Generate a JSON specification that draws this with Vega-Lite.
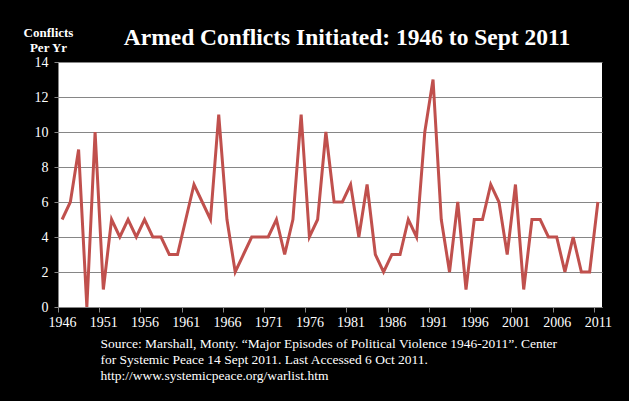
{
  "$schema": "https://vega.github.io/schema/vega-lite/v6.json",
  "autosize": {"type": "none"},
  "width": 544,
  "height": 245,
  "padding": {"left": 58, "top": 62, "right": 27, "bottom": 94},
  "background": "black",
  "title": {
    "text": "Armed Conflicts Initiated: 1946 to Sept 2011",
    "font": "'Liberation Serif', 'Times New Roman', serif",
    "fontSize": 23.5,
    "fontWeight": "bold",
    "color": "white",
    "anchor": "middle",
    "dx": 17,
    "baseline": "alphabetic",
    "offset": -42
  },
  "data": {
    "values": [
      {"year": 1946, "conflicts": 5}, {"year": 1947, "conflicts": 6}, {"year": 1948, "conflicts": 9},
      {"year": 1949, "conflicts": 0}, {"year": 1950, "conflicts": 10}, {"year": 1951, "conflicts": 1},
      {"year": 1952, "conflicts": 5}, {"year": 1953, "conflicts": 4}, {"year": 1954, "conflicts": 5},
      {"year": 1955, "conflicts": 4}, {"year": 1956, "conflicts": 5}, {"year": 1957, "conflicts": 4},
      {"year": 1958, "conflicts": 4}, {"year": 1959, "conflicts": 3}, {"year": 1960, "conflicts": 3},
      {"year": 1961, "conflicts": 5}, {"year": 1962, "conflicts": 7}, {"year": 1963, "conflicts": 6},
      {"year": 1964, "conflicts": 5}, {"year": 1965, "conflicts": 11}, {"year": 1966, "conflicts": 5},
      {"year": 1967, "conflicts": 2}, {"year": 1968, "conflicts": 3}, {"year": 1969, "conflicts": 4},
      {"year": 1970, "conflicts": 4}, {"year": 1971, "conflicts": 4}, {"year": 1972, "conflicts": 5},
      {"year": 1973, "conflicts": 3}, {"year": 1974, "conflicts": 5}, {"year": 1975, "conflicts": 11},
      {"year": 1976, "conflicts": 4}, {"year": 1977, "conflicts": 5}, {"year": 1978, "conflicts": 10},
      {"year": 1979, "conflicts": 6}, {"year": 1980, "conflicts": 6}, {"year": 1981, "conflicts": 7},
      {"year": 1982, "conflicts": 4}, {"year": 1983, "conflicts": 7}, {"year": 1984, "conflicts": 3},
      {"year": 1985, "conflicts": 2}, {"year": 1986, "conflicts": 3}, {"year": 1987, "conflicts": 3},
      {"year": 1988, "conflicts": 5}, {"year": 1989, "conflicts": 4}, {"year": 1990, "conflicts": 10},
      {"year": 1991, "conflicts": 13}, {"year": 1992, "conflicts": 5}, {"year": 1993, "conflicts": 2},
      {"year": 1994, "conflicts": 6}, {"year": 1995, "conflicts": 1}, {"year": 1996, "conflicts": 5},
      {"year": 1997, "conflicts": 5}, {"year": 1998, "conflicts": 7}, {"year": 1999, "conflicts": 6},
      {"year": 2000, "conflicts": 3}, {"year": 2001, "conflicts": 7}, {"year": 2002, "conflicts": 1},
      {"year": 2003, "conflicts": 5}, {"year": 2004, "conflicts": 5}, {"year": 2005, "conflicts": 4},
      {"year": 2006, "conflicts": 4}, {"year": 2007, "conflicts": 2}, {"year": 2008, "conflicts": 4},
      {"year": 2009, "conflicts": 2}, {"year": 2010, "conflicts": 2}, {"year": 2011, "conflicts": 6}
    ]
  },
  "mark": {"type": "line", "color": "#C0504D", "strokeWidth": 3, "clip": false},
  "encoding": {
    "x": {
      "field": "year",
      "type": "quantitative",
      "scale": {"domain": [1945.5, 2011.5], "nice": false, "zero": false},
      "axis": {
        "values": [1946, 1951, 1956, 1961, 1966, 1971, 1976, 1981, 1986, 1991, 1996, 2001, 2006, 2011],
        "format": "d",
        "grid": false,
        "tickOffset": -4.12,
        "labelOffset": 4.12,
        "tickSize": 5,
        "tickColor": "#868686",
        "domainColor": "#868686",
        "labelColor": "white",
        "labelFont": "'Liberation Serif', 'Times New Roman', serif",
        "labelFontSize": 14,
        "labelPadding": 3,
        "labelFlush": false,
        "labelOverlap": false,
        "title": [
          "Source:  Marshall, Monty. \u201cMajor Episodes of Political Violence 1946-2011\u201d. Center",
          "for Systemic Peace  14 Sept 2011.  Last Accessed 6 Oct 2011.",
          "http://www.systemicpeace.org/warlist.htm"
        ],
        "titleColor": "white",
        "titleFont": "'Liberation Serif', 'Times New Roman', serif",
        "titleFontSize": 13.5,
        "titleFontWeight": "normal",
        "titleAnchor": "start",
        "titleAlign": "left",
        "titleBaseline": "alphabetic",
        "titleX": 42,
        "titleY": 40,
        "titleLineHeight": 16
      }
    },
    "y": {
      "field": "conflicts",
      "type": "quantitative",
      "scale": {"domain": [0, 14], "nice": false},
      "axis": {
        "values": [0, 2, 4, 6, 8, 10, 12, 14],
        "grid": true,
        "gridColor": "#868686",
        "gridWidth": 1,
        "tickSize": 4,
        "tickColor": "#868686",
        "domainColor": "#868686",
        "labelColor": "white",
        "labelFont": "'Liberation Serif', 'Times New Roman', serif",
        "labelFontSize": 14,
        "labelPadding": 6,
        "title": ["Conflicts", "Per Yr"],
        "titleColor": "white",
        "titleFont": "'Liberation Serif', 'Times New Roman', serif",
        "titleFontSize": 13,
        "titleFontWeight": "bold",
        "titleAngle": 0,
        "titleAlign": "center",
        "titleBaseline": "alphabetic",
        "titleX": -10,
        "titleY": -26,
        "titleLineHeight": 15
      }
    }
  },
  "config": {
    "view": {"fill": "white", "stroke": null}
  }
}
